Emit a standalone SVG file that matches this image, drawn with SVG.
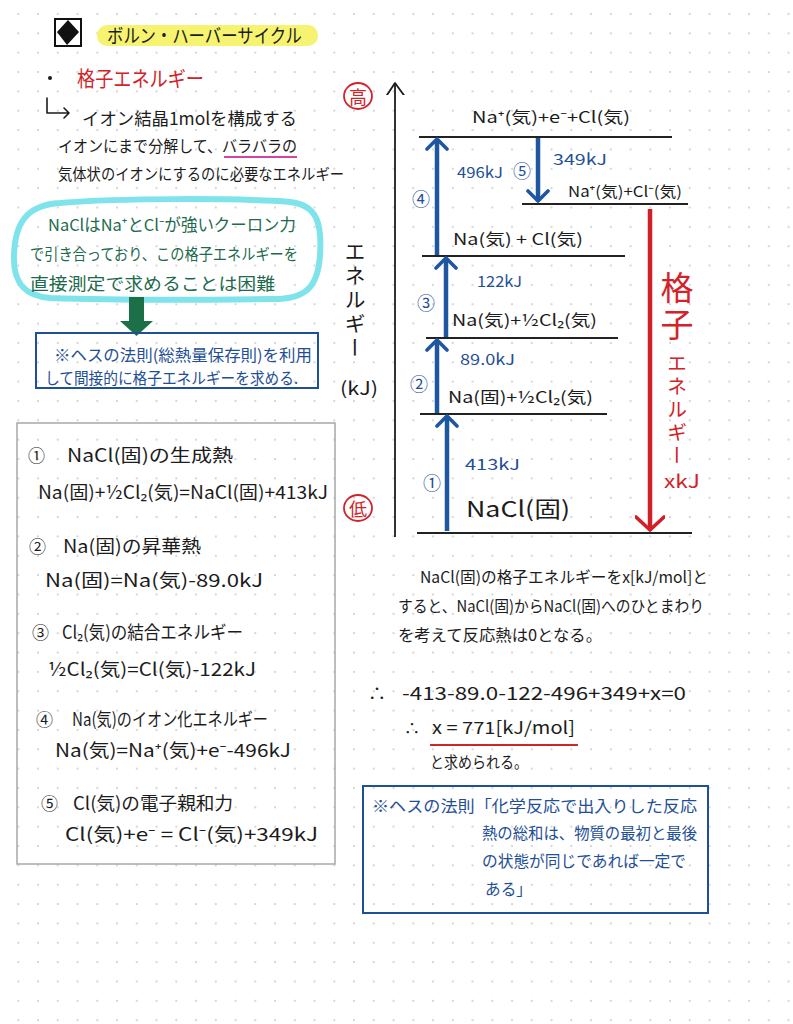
<svg xmlns="http://www.w3.org/2000/svg" width="793" height="1024" viewBox="0 0 793 1024">
<defs>
<pattern id="dots" x="16.3" y="12" width="19.75" height="19.35" patternUnits="userSpaceOnUse">
<circle cx="2" cy="2" r="1.1" fill="#cfcfcf"/>
</pattern>
<marker id="hb" viewBox="0 0 24 24" refX="12" refY="12" markerWidth="24" markerHeight="24" markerUnits="userSpaceOnUse" orient="auto">
<path d="M2,2 L12,12 L2,22" fill="none" stroke="#1f56a0" stroke-width="3.6" stroke-linecap="round" stroke-linejoin="round"/>
</marker>
<marker id="hr" viewBox="0 0 30 30" refX="15" refY="15" markerWidth="30" markerHeight="30" markerUnits="userSpaceOnUse" orient="auto">
<path d="M2,1 L15,15 L2,29" fill="none" stroke="#d01f26" stroke-width="3.6" stroke-linecap="round" stroke-linejoin="round"/>
</marker>
<marker id="hk" viewBox="0 0 24 24" refX="12" refY="12" markerWidth="24" markerHeight="24" markerUnits="userSpaceOnUse" orient="auto">
<path d="M-3,2 L12,12 L-3,23" fill="none" stroke="#1c1c1c" stroke-width="1.8" stroke-linecap="round" stroke-linejoin="round"/>
</marker>
</defs>
<style>
text{font-family:"Noto Sans CJK JP","Noto Sans","DejaVu Sans",sans-serif;fill:#1c1c1c}
.b{fill:#1f4f96}
.r{fill:#d2232a}
.g{fill:#1d6b4c}
.lvl{stroke:#222;stroke-width:2;fill:none}
.ab{stroke:#1f56a0;stroke-width:4.5;fill:none;marker-end:url(#hb)}
.cn{text-anchor:middle;dominant-baseline:central}
</style>
<rect width="793" height="1024" fill="#ffffff"/>
<rect width="793" height="1024" fill="url(#dots)"/>

<g id="title">
<rect x="55" y="19" width="26" height="27" fill="none" stroke="#111" stroke-width="2"/>
<path d="M68,20 L79,32 L67,45 L57,32 Z" fill="#111"/>
<rect x="97" y="25" width="221" height="21" rx="10" fill="#f6f370"/>
<text x="107" y="43" font-size="19" textLength="195" lengthAdjust="spacingAndGlyphs">ボルン・ハーバーサイクル</text>
</g>

<g id="definition">
<circle cx="50" cy="78" r="2" fill="#1c1c1c"/>
<text class="r" x="77" y="86" font-size="21" textLength="127" lengthAdjust="spacingAndGlyphs">格子エネルギー</text>
<path d="M47,98 L47,113 L69,113 M64,108 L69,113 L64,118" fill="none" stroke="#1c1c1c" stroke-width="1.6" stroke-linecap="round" stroke-linejoin="round"/>
<text x="82" y="125" font-size="17.5" textLength="215" lengthAdjust="spacingAndGlyphs">イオン結晶1molを構成する</text>
<text x="58" y="152" font-size="16" textLength="239" lengthAdjust="spacingAndGlyphs">イオンにまで分解して、バラバラの</text>
<line x1="224" y1="157" x2="297" y2="157" stroke="#d5459b" stroke-width="2"/>
<text x="58" y="180" font-size="15.5" textLength="286" lengthAdjust="spacingAndGlyphs">気体状のイオンにするのに必要なエネルギー</text>
</g>

<g id="note-difficult">
<path d="M60,203 C120,198 240,198 290,202 C318,205 322,225 320,255 C318,288 305,300 270,299 C200,300 110,300 50,298 C22,296 13,280 14,255 C15,225 25,205 60,203 Z" fill="none" stroke="#7fe3ec" stroke-width="6"/>
<text class="g" x="48" y="231" font-size="16.5" textLength="248" lengthAdjust="spacingAndGlyphs">NaClはNa⁺とCl⁻が強いクーロン力</text>
<text class="g" x="30" y="260" font-size="15.5" textLength="268" lengthAdjust="spacingAndGlyphs">で引き合っており、この格子エネルギーを</text>
<text class="g" x="30" y="290" font-size="17.5" textLength="245" lengthAdjust="spacingAndGlyphs">直接測定で求めることは困難</text>
</g>

<g id="arrow-green">
<rect x="129" y="297" width="15" height="25" fill="#1b7048"/>
<path d="M120,321 L153,321 L136.5,336 Z" fill="#1b7048"/>
</g>

<g id="note-hess">
<rect x="36" y="333" width="282" height="55" fill="none" stroke="#1f4f96" stroke-width="2"/>
<text class="b" x="54" y="361" font-size="16" textLength="258" lengthAdjust="spacingAndGlyphs">※ヘスの法則(総熱量保存則)を利用</text>
<text class="b" x="45" y="384" font-size="16" textLength="253" lengthAdjust="spacingAndGlyphs">して間接的に格子エネルギーを求める.</text>
</g>

<g id="equations">
<rect x="17" y="423" width="318" height="441" fill="none" stroke="#a8a8a8" stroke-width="1.5"/>
<text x="28" y="462" font-size="17">①</text>
<text x="67" y="462" font-size="18" textLength="166" lengthAdjust="spacingAndGlyphs">NaCl(固)の生成熱</text>
<text x="38" y="499" font-size="18" textLength="290" lengthAdjust="spacingAndGlyphs">Na(固)+½Cl₂(気)=NaCl(固)+413kJ</text>
<text x="29" y="553" font-size="17">②</text>
<text x="63" y="553" font-size="18" textLength="138" lengthAdjust="spacingAndGlyphs">Na(固)の昇華熱</text>
<text x="45" y="587" font-size="18" textLength="218" lengthAdjust="spacingAndGlyphs">Na(固)=Na(気)-89.0kJ</text>
<text x="32" y="639" font-size="17">③</text>
<text x="62" y="639" font-size="18" textLength="181" lengthAdjust="spacingAndGlyphs">Cl₂(気)の結合エネルギー</text>
<text x="48" y="676" font-size="18" textLength="208" lengthAdjust="spacingAndGlyphs">½Cl₂(気)=Cl(気)-122kJ</text>
<text x="36" y="726" font-size="17">④</text>
<text x="72" y="726" font-size="18" textLength="196" lengthAdjust="spacingAndGlyphs">Na(気)のイオン化エネルギー</text>
<text x="55" y="757" font-size="18" textLength="236" lengthAdjust="spacingAndGlyphs">Na(気)=Na⁺(気)+e⁻-496kJ</text>
<text x="41" y="810" font-size="17">⑤</text>
<text x="73" y="810" font-size="18" textLength="160" lengthAdjust="spacingAndGlyphs">Cl(気)の電子親和力</text>
<text x="65" y="841" font-size="18" textLength="253" lengthAdjust="spacingAndGlyphs">Cl(気)+e⁻ = Cl⁻(気)+349kJ</text>
</g>

<g id="axis">
<line x1="395" y1="537" x2="395" y2="83" stroke="#1c1c1c" stroke-width="1.8" marker-end="url(#hk)"/>
<ellipse cx="358" cy="96" rx="14" ry="13" fill="none" stroke="#d2232a" stroke-width="1.8"/>
<text class="r cn" x="358" y="96" font-size="18">高</text>
<ellipse cx="358" cy="508" rx="14" ry="13" fill="none" stroke="#d2232a" stroke-width="1.8"/>
<text class="r cn" x="358" y="508" font-size="18">低</text>
<text x="355" y="241" font-size="21" writing-mode="vertical-rl" letter-spacing="3">エネルギー</text>
<text x="340" y="395" font-size="18" textLength="38" lengthAdjust="spacingAndGlyphs">(kJ)</text>
</g>

<g id="levels">
<line class="lvl" x1="419" y1="137" x2="672" y2="137"/>
<line class="lvl" x1="522" y1="204" x2="688" y2="204"/>
<line class="lvl" x1="422" y1="256" x2="625" y2="256"/>
<line class="lvl" x1="426" y1="338" x2="618" y2="338"/>
<line class="lvl" x1="420" y1="414" x2="607" y2="414"/>
<line class="lvl" x1="417" y1="533" x2="692" y2="533"/>
<text x="472" y="123" font-size="16" textLength="158" lengthAdjust="spacingAndGlyphs">Na⁺(気)+e⁻+Cl(気)</text>
<text x="568" y="197" font-size="15" textLength="114" lengthAdjust="spacingAndGlyphs">Na⁺(気)+Cl⁻(気)</text>
<text x="453" y="245" font-size="16" textLength="130" lengthAdjust="spacingAndGlyphs">Na(気) + Cl(気)</text>
<text x="452" y="326" font-size="16" textLength="145" lengthAdjust="spacingAndGlyphs">Na(気)+½Cl₂(気)</text>
<text x="448" y="403" font-size="16" textLength="145" lengthAdjust="spacingAndGlyphs">Na(固)+½Cl₂(気)</text>
<text x="466" y="517" font-size="22" textLength="104" lengthAdjust="spacingAndGlyphs">NaCl(固)</text>
</g>

<g id="connectors">
<line class="ab" x1="447" y1="531" x2="447" y2="416"/>
<line class="ab" x1="437" y1="413" x2="437" y2="340"/>
<line class="ab" x1="446" y1="337" x2="446" y2="258"/>
<line class="ab" x1="437" y1="255" x2="437" y2="139"/>
<line class="ab" x1="538" y1="138" x2="538" y2="201"/>
<line x1="650" y1="209" x2="650" y2="530" stroke="#d01f26" stroke-width="4.5" marker-end="url(#hr)"/>
</g>

<g id="step-labels">
<text class="b" x="465" y="470" font-size="15" textLength="55" lengthAdjust="spacingAndGlyphs">413kJ</text>
<text class="b cn" x="432" y="482" font-size="18">①</text>
<text class="b" x="460" y="365" font-size="15" textLength="55" lengthAdjust="spacingAndGlyphs">89.0kJ</text>
<text class="b cn" x="419" y="383" font-size="18">②</text>
<text class="b" x="477" y="287" font-size="15" textLength="45" lengthAdjust="spacingAndGlyphs">122kJ</text>
<text class="b cn" x="426" y="302" font-size="18">③</text>
<text class="b" x="457" y="178" font-size="15" textLength="46" lengthAdjust="spacingAndGlyphs">496kJ</text>
<text class="b cn" x="421" y="198" font-size="18">④</text>
<text class="b" x="553" y="165" font-size="15" textLength="54" lengthAdjust="spacingAndGlyphs">349kJ</text>
<text class="b cn" x="522" y="170" font-size="18">⑤</text>
</g>

<g id="lattice-label">
<text class="r" x="677" y="271" font-size="33" writing-mode="vertical-rl" letter-spacing="4">格子</text>
<text class="r" x="677" y="353" font-size="20" writing-mode="vertical-rl" letter-spacing="3">エネルギー</text>
<text class="r" x="664" y="488" font-size="18" textLength="36" lengthAdjust="spacingAndGlyphs">xkJ</text>
</g>

<g id="calculation">
<text x="420" y="583" font-size="16" textLength="288" lengthAdjust="spacingAndGlyphs">NaCl(固)の格子エネルギーをx[kJ/mol]と</text>
<text x="398" y="612" font-size="16" textLength="306" lengthAdjust="spacingAndGlyphs">すると、NaCl(固)からNaCl(固)へのひとまわり</text>
<text x="398" y="641" font-size="16" textLength="204" lengthAdjust="spacingAndGlyphs">を考えて反応熱は0となる。</text>
<text x="368" y="700" font-size="18">∴</text>
<text x="402" y="700" font-size="18" textLength="284" lengthAdjust="spacingAndGlyphs">-413-89.0-122-496+349+x=0</text>
<text x="404" y="734" font-size="16">∴</text>
<text x="432" y="734" font-size="17" textLength="143" lengthAdjust="spacingAndGlyphs">x = 771[kJ/mol]</text>
<line x1="430" y1="745" x2="578" y2="745" stroke="#d2232a" stroke-width="2"/>
<text x="430" y="768" font-size="16" textLength="98" lengthAdjust="spacingAndGlyphs">と求められる。</text>
</g>

<g id="note-law">
<rect x="363" y="786" width="345" height="127" fill="none" stroke="#1f4f96" stroke-width="2"/>
<text class="b" x="372" y="812" font-size="16" textLength="325" lengthAdjust="spacingAndGlyphs">※ヘスの法則「化学反応で出入りした反応</text>
<text class="b" x="482" y="839" font-size="16" textLength="215" lengthAdjust="spacingAndGlyphs">熱の総和は、物質の最初と最後</text>
<text class="b" x="482" y="867" font-size="16" textLength="204" lengthAdjust="spacingAndGlyphs">の状態が同じであれば一定で</text>
<text class="b" x="485" y="895" font-size="16" textLength="47" lengthAdjust="spacingAndGlyphs">ある」</text>
</g>
</svg>
